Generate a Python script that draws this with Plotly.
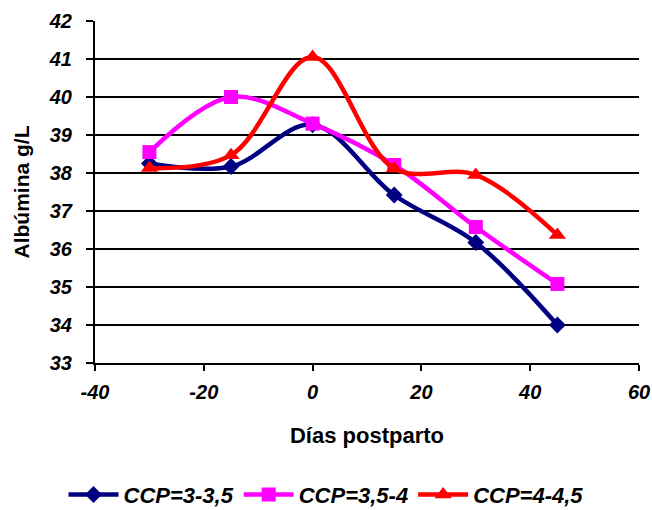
import plotly.graph_objects as go

dias = [-30, -15, 0, 15, 30, 45]
ccp_3_35 = [38.25, 38.17, 39.27, 37.42, 36.17, 34.0]
ccp_35_4 = [38.55, 40.0, 39.3, 38.21, 36.58, 35.08]
ccp_4_45 = [38.13, 38.47, 41.05, 38.12, 37.95, 36.37]
names = ["CCP=3-3,5", "CCP=3,5-4", "CCP=4-4,5"]
x_ticks = [-40, -20, 0, 20, 40, 60]
y_ticks = [33, 34, 35, 36, 37, 38, 39, 40, 41, 42]
colors = ["#000080", "#FF00FF", "#FF0000"]
symbols = ["diamond", "square", "triangle-up"]
msizes = [13, 14, 15]

fig = go.Figure()
for ys, n, c, s, ms in zip([ccp_3_35, ccp_35_4, ccp_4_45], names, colors, symbols, msizes):
    fig.add_trace(go.Scatter(
        x=dias, y=ys, name="<b><i>" + n + "</i></b>", mode="lines+markers",
        line=dict(color=c, width=4.5, shape="spline", smoothing=1),
        marker=dict(symbol=s, size=ms, color=c),
    ))

font_fam = "Liberation Sans, Arial, sans-serif"
fig.update_layout(
    width=652, height=510,
    margin=dict(l=95, r=13, t=21, b=147),
    paper_bgcolor="white", plot_bgcolor="white",
    font=dict(family=font_fam, color="black"),
    showlegend=True,
    legend=dict(
        orientation="h", xref="container", yref="container",
        x=0.5, xanchor="center", y=0.03, yanchor="middle",
        font=dict(size=22, family=font_fam),
        itemwidth=50, tracegroupgap=0,
    ),
    xaxis=dict(
        range=[-40, 60], tickvals=x_ticks,
        ticktext=["<b><i>%d</i></b>" % v for v in x_ticks],
        showgrid=False, zeroline=False, automargin=False,
        showline=True, linecolor="black", linewidth=2,
        ticks="outside", ticklen=6, tickwidth=1.5, tickcolor="black",
        tickfont=dict(size=20, family=font_fam), ticklabelstandoff=4,
        title=dict(text="<b>Días postparto</b>", font=dict(size=22, family=font_fam), standoff=26),
    ),
    yaxis=dict(
        range=[33, 42], tickvals=y_ticks,
        ticktext=["<b><i>%d</i></b>" % v for v in y_ticks],
        showgrid=True, gridcolor="black", gridwidth=1.5, zeroline=False, automargin=False,
        showline=True, linecolor="black", linewidth=2,
        ticks="outside", ticklen=7, tickwidth=1.5, tickcolor="black",
        tickfont=dict(size=20, family=font_fam), ticklabelstandoff=10,
        title=dict(text="<b>Albúmina g/L</b>", font=dict(size=21, family=font_fam), standoff=13),
    ),
)

fig.write_html("out.html")
